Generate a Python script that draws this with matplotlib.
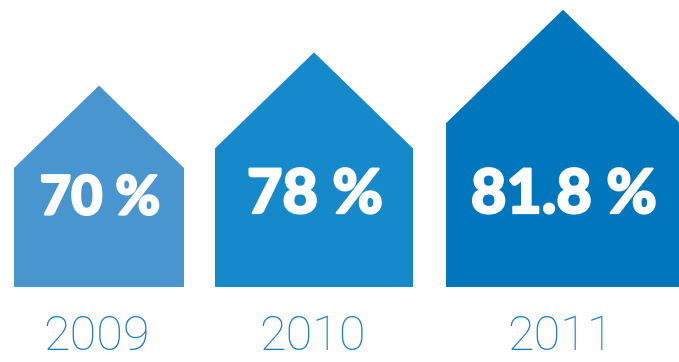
import matplotlib.pyplot as plt
import matplotlib.patheffects as pe
from matplotlib.patches import Polygon

years = ["2009", "2010", "2011"]
values = [70, 78, 81.8]

# layout in pixel units (figure is 679 x 362)
centers = [99, 314, 563]
widths = [170, 198, 234]
colors = ["#4895D0", "#1589CA", "#0077BD"]
value_sizes = [39, 44, 44]
value_y = [199, 195, 195]
ground = 287

fig = plt.figure(figsize=(6.79, 3.62), dpi=100)
ax = fig.add_axes([0, 0, 1, 1])
ax.set_xlim(0, 679)
ax.set_ylim(362, 0)
ax.axis("off")

for i, (year, v) in enumerate(zip(years, values)):
    cx, w = centers[i], widths[i]
    half = w / 2
    body_top = ground - 0.70 * w
    peak = body_top - 0.97 * half
    pts = [(cx - half, ground), (cx - half, body_top), (cx, peak),
           (cx + half, body_top), (cx + half, ground)]
    ax.add_patch(Polygon(pts, closed=True, facecolor=colors[i], edgecolor="none"))
    # slight white stroke to make the bold figures a bit heavier
    ax.text(cx + 1, value_y[i], f"{v:g} %", ha="center", va="center", color="white",
            fontsize=value_sizes[i], fontweight="black", family="Lato",
            path_effects=[pe.withStroke(linewidth=1.6, foreground="white")])
    ax.text(cx - 2, 337, year, ha="center", va="center", color="#1A7DC4",
            fontsize=35, fontweight="light", family="Roboto")

fig.savefig("out.png", dpi=100)
